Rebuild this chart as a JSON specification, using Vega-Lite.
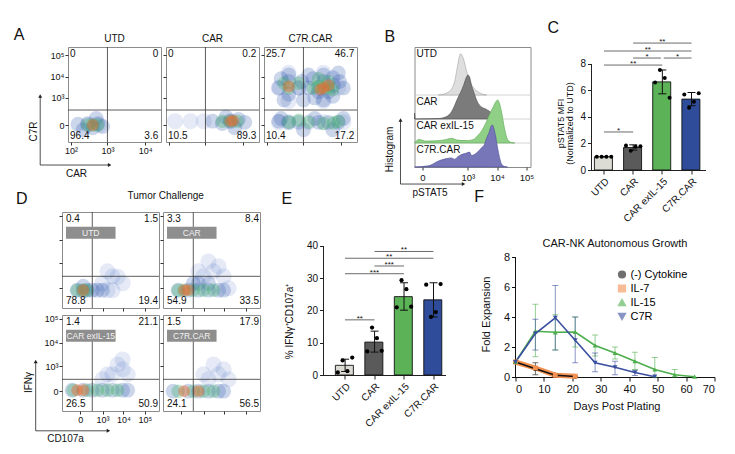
{
  "$schema": "https://vega.github.io/schema/vega-lite/v6.json",
  "background": "white",
  "padding": {"left": 13, "top": 20, "right": 5, "bottom": 5},
  "config": {
    "font": "Liberation Sans",
    "view": {"stroke": "#8c8c8c", "strokeWidth": 1},
    "title": {"fontWeight": "normal", "color": "#111", "fontSize": 10},
    "axis": {"grid": false, "labelColor": "#111", "titleColor": "#111", "tickColor": "#333", "domainColor": "#333", "titleFontWeight": "normal", "labelOverlap": false, "tickCount": 20},
    "text": {"color": "#111"}
  },
  "datasets": {
    "flowA": [
      {"sample": "UTD", "car": 296, "c7r": 0, "level": 0},
      {"sample": "UTD", "car": 600, "c7r": 0, "level": 0},
      {"sample": "UTD", "car": 158, "c7r": 5, "level": 1},
      {"sample": "UTD", "car": 296, "c7r": 10, "level": 1},
      {"sample": "UTD", "car": 404, "c7r": -20, "level": 1},
      {"sample": "UTD", "car": 550, "c7r": 10, "level": 1},
      {"sample": "UTD", "car": 746, "c7r": -10, "level": 1},
      {"sample": "UTD", "car": 220, "c7r": -40, "level": 1},
      {"sample": "UTD", "car": 500, "c7r": 60, "level": 1},
      {"sample": "UTD", "car": 296, "c7r": 0, "level": 2},
      {"sample": "UTD", "car": 404, "c7r": 0, "level": 2},
      {"sample": "UTD", "car": 550, "c7r": 0, "level": 2},
      {"sample": "UTD", "car": 404, "c7r": 0, "level": 3},
      {"sample": "CAR", "car": 150, "c7r": 30, "level": 0},
      {"sample": "CAR", "car": 400, "c7r": 30, "level": 0},
      {"sample": "CAR", "car": 900, "c7r": 30, "level": 0},
      {"sample": "CAR", "car": 4600, "c7r": 30, "level": 0},
      {"sample": "CAR", "car": 1550, "c7r": 30, "level": 1},
      {"sample": "CAR", "car": 2800, "c7r": 10, "level": 1},
      {"sample": "CAR", "car": 4600, "c7r": 30, "level": 1},
      {"sample": "CAR", "car": 7500, "c7r": 50, "level": 1},
      {"sample": "CAR", "car": 11000, "c7r": 20, "level": 1},
      {"sample": "CAR", "car": 3500, "c7r": 80, "level": 1},
      {"sample": "CAR", "car": 6000, "c7r": -20, "level": 1},
      {"sample": "CAR", "car": 2800, "c7r": 30, "level": 2},
      {"sample": "CAR", "car": 4600, "c7r": 30, "level": 2},
      {"sample": "CAR", "car": 7000, "c7r": 30, "level": 2},
      {"sample": "CAR", "car": 4600, "c7r": 30, "level": 3},
      {"sample": "CAR", "car": 5500, "c7r": 35, "level": 3},
      {"sample": "C7R.CAR", "car": 217, "c7r": 3000, "level": 0},
      {"sample": "C7R.CAR", "car": 746, "c7r": 3000, "level": 0},
      {"sample": "C7R.CAR", "car": 2510, "c7r": 3000, "level": 0},
      {"sample": "C7R.CAR", "car": 8400, "c7r": 3000, "level": 0},
      {"sample": "C7R.CAR", "car": 400, "c7r": 15000, "level": 0},
      {"sample": "C7R.CAR", "car": 3400, "c7r": 15000, "level": 0},
      {"sample": "C7R.CAR", "car": 400, "c7r": 700, "level": 0},
      {"sample": "C7R.CAR", "car": 3400, "c7r": 700, "level": 0},
      {"sample": "C7R.CAR", "car": 400, "c7r": 20, "level": 0},
      {"sample": "C7R.CAR", "car": 3400, "c7r": 20, "level": 0},
      {"sample": "C7R.CAR", "car": 1371, "c7r": 20, "level": 0},
      {"sample": "C7R.CAR", "car": 11370, "c7r": 20, "level": 0},
      {"sample": "C7R.CAR", "car": 217, "c7r": 20, "level": 0},
      {"sample": "C7R.CAR", "car": 217, "c7r": 3000, "level": 1},
      {"sample": "C7R.CAR", "car": 404, "c7r": 1500, "level": 1},
      {"sample": "C7R.CAR", "car": 404, "c7r": 6000, "level": 1},
      {"sample": "C7R.CAR", "car": 746, "c7r": 3000, "level": 1},
      {"sample": "C7R.CAR", "car": 1371, "c7r": 3000, "level": 1},
      {"sample": "C7R.CAR", "car": 2510, "c7r": 2000, "level": 1},
      {"sample": "C7R.CAR", "car": 3400, "c7r": 6000, "level": 1},
      {"sample": "C7R.CAR", "car": 4600, "c7r": 2000, "level": 1},
      {"sample": "C7R.CAR", "car": 6220, "c7r": 4000, "level": 1},
      {"sample": "C7R.CAR", "car": 3400, "c7r": 800, "level": 1},
      {"sample": "C7R.CAR", "car": 404, "c7r": 20, "level": 1},
      {"sample": "C7R.CAR", "car": 217, "c7r": 30, "level": 1},
      {"sample": "C7R.CAR", "car": 746, "c7r": 20, "level": 1},
      {"sample": "C7R.CAR", "car": 2510, "c7r": 20, "level": 1},
      {"sample": "C7R.CAR", "car": 4600, "c7r": 20, "level": 1},
      {"sample": "C7R.CAR", "car": 8400, "c7r": 20, "level": 1},
      {"sample": "C7R.CAR", "car": 11370, "c7r": 3000, "level": 1},
      {"sample": "C7R.CAR", "car": 404, "c7r": 12000, "level": 1},
      {"sample": "C7R.CAR", "car": 3400, "c7r": 12000, "level": 1},
      {"sample": "C7R.CAR", "car": 300, "c7r": 800, "level": 1},
      {"sample": "C7R.CAR", "car": 1000, "c7r": 800, "level": 1},
      {"sample": "C7R.CAR", "car": 2000, "c7r": 1000, "level": 1},
      {"sample": "C7R.CAR", "car": 6000, "c7r": 1200, "level": 1},
      {"sample": "C7R.CAR", "car": 900, "c7r": 6000, "level": 1},
      {"sample": "C7R.CAR", "car": 1800, "c7r": 8000, "level": 1},
      {"sample": "C7R.CAR", "car": 6000, "c7r": 9000, "level": 1},
      {"sample": "C7R.CAR", "car": 250, "c7r": 8000, "level": 1},
      {"sample": "C7R.CAR", "car": 9000, "c7r": 6000, "level": 1},
      {"sample": "C7R.CAR", "car": 1371, "c7r": 12000, "level": 1},
      {"sample": "C7R.CAR", "car": 8400, "c7r": 15000, "level": 1},
      {"sample": "C7R.CAR", "car": 250, "c7r": 60, "level": 1},
      {"sample": "C7R.CAR", "car": 1000, "c7r": -40, "level": 1},
      {"sample": "C7R.CAR", "car": 2000, "c7r": 60, "level": 1},
      {"sample": "C7R.CAR", "car": 6000, "c7r": -40, "level": 1},
      {"sample": "C7R.CAR", "car": 11370, "c7r": 60, "level": 1},
      {"sample": "C7R.CAR", "car": 404, "c7r": 3000, "level": 2},
      {"sample": "C7R.CAR", "car": 3400, "c7r": 3000, "level": 2},
      {"sample": "C7R.CAR", "car": 2510, "c7r": 3500, "level": 2},
      {"sample": "C7R.CAR", "car": 4600, "c7r": 3000, "level": 2},
      {"sample": "C7R.CAR", "car": 404, "c7r": 20, "level": 2},
      {"sample": "C7R.CAR", "car": 3400, "c7r": 10, "level": 2},
      {"sample": "C7R.CAR", "car": 6220, "c7r": 15, "level": 2},
      {"sample": "C7R.CAR", "car": 300, "c7r": 5000, "level": 2},
      {"sample": "C7R.CAR", "car": 746, "c7r": 5000, "level": 2},
      {"sample": "C7R.CAR", "car": 1800, "c7r": 3000, "level": 2},
      {"sample": "C7R.CAR", "car": 6000, "c7r": 2500, "level": 2},
      {"sample": "C7R.CAR", "car": 2510, "c7r": 8000, "level": 2},
      {"sample": "C7R.CAR", "car": 4600, "c7r": 6000, "level": 2},
      {"sample": "C7R.CAR", "car": 1371, "c7r": 20, "level": 2},
      {"sample": "C7R.CAR", "car": 8400, "c7r": 30, "level": 2},
      {"sample": "C7R.CAR", "car": 746, "c7r": 40, "level": 2},
      {"sample": "C7R.CAR", "car": 3400, "c7r": 3000, "level": 3},
      {"sample": "C7R.CAR", "car": 2800, "c7r": 2500, "level": 3},
      {"sample": "C7R.CAR", "car": 4600, "c7r": 4000, "level": 3},
      {"sample": "C7R.CAR", "car": 404, "c7r": 3500, "level": 3}
    ],
    "quadA": [
      {"sample": "UTD", "q": "UL", "pct": "0"}, {"sample": "UTD", "q": "UR", "pct": "0"},
      {"sample": "UTD", "q": "LL", "pct": "96.4"}, {"sample": "UTD", "q": "LR", "pct": "3.6"},
      {"sample": "CAR", "q": "UL", "pct": "0"}, {"sample": "CAR", "q": "UR", "pct": "0.2"},
      {"sample": "CAR", "q": "LL", "pct": "10.5"}, {"sample": "CAR", "q": "LR", "pct": "89.3"},
      {"sample": "C7R.CAR", "q": "UL", "pct": "25.7"}, {"sample": "C7R.CAR", "q": "UR", "pct": "46.7"},
      {"sample": "C7R.CAR", "q": "LL", "pct": "10.4"}, {"sample": "C7R.CAR", "q": "LR", "pct": "17.2"}
    ],
    "flowD": [
      {"sample": "UTD", "cd107a": 1747, "ifng": -21, "level": 0},
      {"sample": "UTD", "cd107a": 3069, "ifng": -21, "level": 0},
      {"sample": "UTD", "cd107a": 976, "ifng": 60, "level": 0},
      {"sample": "UTD", "cd107a": 3069, "ifng": 211, "level": 0},
      {"sample": "UTD", "cd107a": 1747, "ifng": 400, "level": 0},
      {"sample": "UTD", "cd107a": 5340, "ifng": 200, "level": 0},
      {"sample": "UTD", "cd107a": 9230, "ifng": 60, "level": 0},
      {"sample": "UTD", "cd107a": -38, "ifng": -21, "level": 1},
      {"sample": "UTD", "cd107a": 38, "ifng": -30, "level": 1},
      {"sample": "UTD", "cd107a": 113, "ifng": -21, "level": 1},
      {"sample": "UTD", "cd107a": 265, "ifng": -21, "level": 1},
      {"sample": "UTD", "cd107a": 527, "ifng": -21, "level": 1},
      {"sample": "UTD", "cd107a": 976, "ifng": -21, "level": 1},
      {"sample": "UTD", "cd107a": 38, "ifng": 20, "level": 1},
      {"sample": "UTD", "cd107a": 38, "ifng": -21, "level": 2},
      {"sample": "UTD", "cd107a": -38, "ifng": -21, "level": 2},
      {"sample": "UTD", "cd107a": 113, "ifng": -21, "level": 2},
      {"sample": "UTD", "cd107a": 38, "ifng": -21, "level": 3},
      {"sample": "CAR", "cd107a": 976, "ifng": 211, "level": 0},
      {"sample": "CAR", "cd107a": 3069, "ifng": 400, "level": 0},
      {"sample": "CAR", "cd107a": 9230, "ifng": 211, "level": 0},
      {"sample": "CAR", "cd107a": 1747, "ifng": 1190, "level": 0},
      {"sample": "CAR", "cd107a": 5340, "ifng": 703, "level": 0},
      {"sample": "CAR", "cd107a": 527, "ifng": 400, "level": 0},
      {"sample": "CAR", "cd107a": 15900, "ifng": 0, "level": 0},
      {"sample": "CAR", "cd107a": -38, "ifng": -21, "level": 1},
      {"sample": "CAR", "cd107a": 113, "ifng": -21, "level": 1},
      {"sample": "CAR", "cd107a": 527, "ifng": -21, "level": 1},
      {"sample": "CAR", "cd107a": 1747, "ifng": -21, "level": 1},
      {"sample": "CAR", "cd107a": 5340, "ifng": -21, "level": 1},
      {"sample": "CAR", "cd107a": 9230, "ifng": -21, "level": 1},
      {"sample": "CAR", "cd107a": 527, "ifng": 60, "level": 1},
      {"sample": "CAR", "cd107a": 1747, "ifng": 60, "level": 1},
      {"sample": "CAR", "cd107a": 265, "ifng": 60, "level": 1},
      {"sample": "CAR", "cd107a": -38, "ifng": -21, "level": 2},
      {"sample": "CAR", "cd107a": 38, "ifng": -21, "level": 2},
      {"sample": "CAR", "cd107a": 265, "ifng": -21, "level": 2},
      {"sample": "CAR", "cd107a": 976, "ifng": -21, "level": 2},
      {"sample": "CAR", "cd107a": 3069, "ifng": -21, "level": 2},
      {"sample": "CAR", "cd107a": 38, "ifng": -21, "level": 3},
      {"sample": "CAR", "cd107a": 113, "ifng": -21, "level": 3},
      {"sample": "CAR exIL-15", "cd107a": 976, "ifng": 211, "level": 0},
      {"sample": "CAR exIL-15", "cd107a": 3069, "ifng": 400, "level": 0},
      {"sample": "CAR exIL-15", "cd107a": 9230, "ifng": 703, "level": 0},
      {"sample": "CAR exIL-15", "cd107a": 5340, "ifng": 1190, "level": 0},
      {"sample": "CAR exIL-15", "cd107a": 9230, "ifng": 1970, "level": 0},
      {"sample": "CAR exIL-15", "cd107a": 15900, "ifng": 400, "level": 0},
      {"sample": "CAR exIL-15", "cd107a": 1747, "ifng": 400, "level": 0},
      {"sample": "CAR exIL-15", "cd107a": -137, "ifng": 10, "level": 1},
      {"sample": "CAR exIL-15", "cd107a": 38, "ifng": 10, "level": 1},
      {"sample": "CAR exIL-15", "cd107a": 265, "ifng": 10, "level": 1},
      {"sample": "CAR exIL-15", "cd107a": 976, "ifng": 10, "level": 1},
      {"sample": "CAR exIL-15", "cd107a": 3069, "ifng": 10, "level": 1},
      {"sample": "CAR exIL-15", "cd107a": 9230, "ifng": 10, "level": 1},
      {"sample": "CAR exIL-15", "cd107a": 15900, "ifng": 10, "level": 1},
      {"sample": "CAR exIL-15", "cd107a": -113, "ifng": 10, "level": 2},
      {"sample": "CAR exIL-15", "cd107a": 113, "ifng": 10, "level": 2},
      {"sample": "CAR exIL-15", "cd107a": 527, "ifng": 10, "level": 2},
      {"sample": "CAR exIL-15", "cd107a": 1747, "ifng": 10, "level": 2},
      {"sample": "CAR exIL-15", "cd107a": 5340, "ifng": 10, "level": 2},
      {"sample": "CAR exIL-15", "cd107a": -38, "ifng": 10, "level": 3},
      {"sample": "CAR exIL-15", "cd107a": 38, "ifng": 10, "level": 3},
      {"sample": "C7R.CAR", "cd107a": 1747, "ifng": 211, "level": 0},
      {"sample": "C7R.CAR", "cd107a": 5340, "ifng": 400, "level": 0},
      {"sample": "C7R.CAR", "cd107a": 9230, "ifng": 703, "level": 0},
      {"sample": "C7R.CAR", "cd107a": 3069, "ifng": 1190, "level": 0},
      {"sample": "C7R.CAR", "cd107a": 15900, "ifng": 211, "level": 0},
      {"sample": "C7R.CAR", "cd107a": 976, "ifng": 400, "level": 0},
      {"sample": "C7R.CAR", "cd107a": -137, "ifng": 0, "level": 1},
      {"sample": "C7R.CAR", "cd107a": 113, "ifng": 0, "level": 1},
      {"sample": "C7R.CAR", "cd107a": 527, "ifng": 0, "level": 1},
      {"sample": "C7R.CAR", "cd107a": 1747, "ifng": 0, "level": 1},
      {"sample": "C7R.CAR", "cd107a": 5340, "ifng": 0, "level": 1},
      {"sample": "C7R.CAR", "cd107a": 9230, "ifng": 0, "level": 1},
      {"sample": "C7R.CAR", "cd107a": -38, "ifng": 0, "level": 2},
      {"sample": "C7R.CAR", "cd107a": 265, "ifng": 0, "level": 2},
      {"sample": "C7R.CAR", "cd107a": 976, "ifng": 0, "level": 2},
      {"sample": "C7R.CAR", "cd107a": 3069, "ifng": 0, "level": 2},
      {"sample": "C7R.CAR", "cd107a": 38, "ifng": 0, "level": 3},
      {"sample": "C7R.CAR", "cd107a": 527, "ifng": 0, "level": 3}
    ],
    "quadD": [
      {"sample": "UTD", "q": "UL", "pct": "0.4"}, {"sample": "UTD", "q": "UR", "pct": "1.5"},
      {"sample": "UTD", "q": "LL", "pct": "78.8"}, {"sample": "UTD", "q": "LR", "pct": "19.4"},
      {"sample": "CAR", "q": "UL", "pct": "3.3"}, {"sample": "CAR", "q": "UR", "pct": "8.4"},
      {"sample": "CAR", "q": "LL", "pct": "54.9"}, {"sample": "CAR", "q": "LR", "pct": "33.5"},
      {"sample": "CAR exIL-15", "q": "UL", "pct": "1.4"}, {"sample": "CAR exIL-15", "q": "UR", "pct": "21.1"},
      {"sample": "CAR exIL-15", "q": "LL", "pct": "26.5"}, {"sample": "CAR exIL-15", "q": "LR", "pct": "50.9"},
      {"sample": "C7R.CAR", "q": "UL", "pct": "1.5"}, {"sample": "C7R.CAR", "q": "UR", "pct": "17.9"},
      {"sample": "C7R.CAR", "q": "LL", "pct": "24.1"}, {"sample": "C7R.CAR", "q": "LR", "pct": "56.5"}
    ],
    "hist": [
      {"sample": "UTD", "pstat5": 74, "h": 3.0}, {"sample": "UTD", "pstat5": 165, "h": 3.08},
      {"sample": "UTD", "pstat5": 258, "h": 3.25}, {"sample": "UTD", "pstat5": 334, "h": 3.55},
      {"sample": "UTD", "pstat5": 430, "h": 4.2}, {"sample": "UTD", "pstat5": 500, "h": 4.6},
      {"sample": "UTD", "pstat5": 551, "h": 4.72}, {"sample": "UTD", "pstat5": 704, "h": 4.5},
      {"sample": "UTD", "pstat5": 898, "h": 4.0}, {"sample": "UTD", "pstat5": 1143, "h": 3.6},
      {"sample": "UTD", "pstat5": 1573, "h": 3.3}, {"sample": "UTD", "pstat5": 2160, "h": 3.15},
      {"sample": "UTD", "pstat5": 2960, "h": 3.05}, {"sample": "UTD", "pstat5": 4390, "h": 3.0},
      {"sample": "CAR", "pstat5": -26, "h": 2.25}, {"sample": "CAR", "pstat5": -22, "h": 2.0},
      {"sample": "CAR", "pstat5": 74, "h": 2.02}, {"sample": "CAR", "pstat5": 165, "h": 2.1},
      {"sample": "CAR", "pstat5": 258, "h": 2.3}, {"sample": "CAR", "pstat5": 334, "h": 2.55},
      {"sample": "CAR", "pstat5": 430, "h": 2.85}, {"sample": "CAR", "pstat5": 551, "h": 3.1},
      {"sample": "CAR", "pstat5": 704, "h": 3.4}, {"sample": "CAR", "pstat5": 898, "h": 3.75},
      {"sample": "CAR", "pstat5": 1000, "h": 3.83}, {"sample": "CAR", "pstat5": 1143, "h": 3.75},
      {"sample": "CAR", "pstat5": 1341, "h": 3.4}, {"sample": "CAR", "pstat5": 1573, "h": 3.15},
      {"sample": "CAR", "pstat5": 2160, "h": 2.7}, {"sample": "CAR", "pstat5": 2960, "h": 2.5},
      {"sample": "CAR", "pstat5": 4390, "h": 2.4}, {"sample": "CAR", "pstat5": 5560, "h": 2.32},
      {"sample": "CAR", "pstat5": 7030, "h": 2.22}, {"sample": "CAR", "pstat5": 8880, "h": 2.12},
      {"sample": "CAR", "pstat5": 10400, "h": 2.05}, {"sample": "CAR", "pstat5": 12150, "h": 2.0},
      {"sample": "CAR exIL-15", "pstat5": -26, "h": 1.0}, {"sample": "CAR exIL-15", "pstat5": -10, "h": 1.15},
      {"sample": "CAR exIL-15", "pstat5": 10, "h": 1.08}, {"sample": "CAR exIL-15", "pstat5": 74, "h": 1.1},
      {"sample": "CAR exIL-15", "pstat5": 165, "h": 1.15}, {"sample": "CAR exIL-15", "pstat5": 258, "h": 1.2},
      {"sample": "CAR exIL-15", "pstat5": 430, "h": 1.12}, {"sample": "CAR exIL-15", "pstat5": 898, "h": 1.1},
      {"sample": "CAR exIL-15", "pstat5": 1573, "h": 1.15}, {"sample": "CAR exIL-15", "pstat5": 2160, "h": 1.3},
      {"sample": "CAR exIL-15", "pstat5": 2960, "h": 1.5}, {"sample": "CAR exIL-15", "pstat5": 4390, "h": 1.9},
      {"sample": "CAR exIL-15", "pstat5": 5560, "h": 2.2}, {"sample": "CAR exIL-15", "pstat5": 7030, "h": 2.45},
      {"sample": "CAR exIL-15", "pstat5": 8880, "h": 2.7}, {"sample": "CAR exIL-15", "pstat5": 10400, "h": 2.79},
      {"sample": "CAR exIL-15", "pstat5": 12150, "h": 2.65}, {"sample": "CAR exIL-15", "pstat5": 14200, "h": 2.3},
      {"sample": "CAR exIL-15", "pstat5": 17950, "h": 1.6}, {"sample": "CAR exIL-15", "pstat5": 22700, "h": 1.15},
      {"sample": "CAR exIL-15", "pstat5": 31000, "h": 1.02}, {"sample": "CAR exIL-15", "pstat5": 40000, "h": 1.0},
      {"sample": "C7R.CAR", "pstat5": -26, "h": 0}, {"sample": "C7R.CAR", "pstat5": 18, "h": 0.05},
      {"sample": "C7R.CAR", "pstat5": 74, "h": 0.25}, {"sample": "C7R.CAR", "pstat5": 165, "h": 0.35},
      {"sample": "C7R.CAR", "pstat5": 258, "h": 0.38}, {"sample": "C7R.CAR", "pstat5": 334, "h": 0.32},
      {"sample": "C7R.CAR", "pstat5": 430, "h": 0.42}, {"sample": "C7R.CAR", "pstat5": 551, "h": 0.5},
      {"sample": "C7R.CAR", "pstat5": 898, "h": 0.58}, {"sample": "C7R.CAR", "pstat5": 1143, "h": 0.62},
      {"sample": "C7R.CAR", "pstat5": 1341, "h": 0.48}, {"sample": "C7R.CAR", "pstat5": 1573, "h": 0.5},
      {"sample": "C7R.CAR", "pstat5": 2160, "h": 0.62}, {"sample": "C7R.CAR", "pstat5": 2960, "h": 0.8},
      {"sample": "C7R.CAR", "pstat5": 3750, "h": 0.95}, {"sample": "C7R.CAR", "pstat5": 4390, "h": 1.2},
      {"sample": "C7R.CAR", "pstat5": 5560, "h": 1.5}, {"sample": "C7R.CAR", "pstat5": 6000, "h": 1.65},
      {"sample": "C7R.CAR", "pstat5": 7030, "h": 1.75}, {"sample": "C7R.CAR", "pstat5": 7600, "h": 1.65},
      {"sample": "C7R.CAR", "pstat5": 8880, "h": 1.3}, {"sample": "C7R.CAR", "pstat5": 10400, "h": 0.8},
      {"sample": "C7R.CAR", "pstat5": 12150, "h": 0.4}, {"sample": "C7R.CAR", "pstat5": 14200, "h": 0.12},
      {"sample": "C7R.CAR", "pstat5": 17950, "h": 0.02}, {"sample": "C7R.CAR", "pstat5": 22700, "h": 0}
    ],
    "pstat": [
      {"group": "UTD", "mean": 1.0, "lo": 1.0, "hi": 1.0},
      {"group": "CAR", "mean": 1.7, "lo": 1.5, "hi": 1.9},
      {"group": "CAR exIL-15", "mean": 6.65, "lo": 5.75, "hi": 7.55},
      {"group": "C7R.CAR", "mean": 5.35, "lo": 4.85, "hi": 5.85}
    ],
    "pstatPts": [
      {"group": "UTD", "rep": 1, "v": 1.0}, {"group": "UTD", "rep": 2, "v": 1.0},
      {"group": "UTD", "rep": 3, "v": 1.0}, {"group": "UTD", "rep": 4, "v": 1.0},
      {"group": "CAR", "rep": 1, "v": 1.85}, {"group": "CAR", "rep": 2, "v": 1.45},
      {"group": "CAR", "rep": 3, "v": 1.75}, {"group": "CAR", "rep": 4, "v": 1.8},
      {"group": "CAR exIL-15", "rep": 1, "v": 6.6}, {"group": "CAR exIL-15", "rep": 2, "v": 7.55},
      {"group": "CAR exIL-15", "rep": 3, "v": 6.95}, {"group": "CAR exIL-15", "rep": 4, "v": 5.45},
      {"group": "C7R.CAR", "rep": 1, "v": 5.7}, {"group": "C7R.CAR", "rep": 2, "v": 4.7},
      {"group": "C7R.CAR", "rep": 3, "v": 5.15}, {"group": "C7R.CAR", "rep": 4, "v": 5.8}
    ],
    "pstatSig": [
      {"cmp": 1, "pos": 2, "h": 9.58, "stars": "**"}, {"cmp": 1, "pos": 4, "h": 9.58, "stars": "**"},
      {"cmp": 2, "pos": 1, "h": 8.98, "stars": "**"}, {"cmp": 2, "pos": 4, "h": 8.98, "stars": "**"},
      {"cmp": 3, "pos": 2, "h": 8.45, "stars": "*"}, {"cmp": 3, "pos": 2.95, "h": 8.45, "stars": "*"},
      {"cmp": 4, "pos": 3.05, "h": 8.45, "stars": "*"}, {"cmp": 4, "pos": 4, "h": 8.45, "stars": "*"},
      {"cmp": 5, "pos": 1, "h": 7.92, "stars": "**"}, {"cmp": 5, "pos": 3, "h": 7.92, "stars": "**"},
      {"cmp": 6, "pos": 1, "h": 2.87, "stars": "*"}, {"cmp": 6, "pos": 2, "h": 2.87, "stars": "*"}
    ],
    "ifn": [
      {"group": "UTD", "mean": 3.0, "lo": 1.1, "hi": 4.9},
      {"group": "CAR", "mean": 10.2, "lo": 7.1, "hi": 13.6},
      {"group": "CAR exIL-15", "mean": 24.3, "lo": 20.1, "hi": 28.6},
      {"group": "C7R.CAR", "mean": 23.3, "lo": 18.0, "hi": 28.6}
    ],
    "ifnPts": [
      {"group": "UTD", "rep": 1, "v": 0.8}, {"group": "UTD", "rep": 2, "v": 4.5},
      {"group": "UTD", "rep": 3, "v": 1.2}, {"group": "UTD", "rep": 4, "v": 5.4},
      {"group": "CAR", "rep": 1, "v": 7.3}, {"group": "CAR", "rep": 2, "v": 14.7},
      {"group": "CAR", "rep": 3, "v": 11.4}, {"group": "CAR", "rep": 4, "v": 7.5},
      {"group": "CAR exIL-15", "rep": 1, "v": 21.0}, {"group": "CAR exIL-15", "rep": 2, "v": 29.4},
      {"group": "CAR exIL-15", "rep": 3, "v": 26.6}, {"group": "CAR exIL-15", "rep": 4, "v": 21.2},
      {"group": "C7R.CAR", "rep": 1, "v": 28.0}, {"group": "C7R.CAR", "rep": 2, "v": 18.0},
      {"group": "C7R.CAR", "rep": 3, "v": 19.5}, {"group": "C7R.CAR", "rep": 4, "v": 28.2}
    ],
    "ifnSig": [
      {"cmp": 1, "pos": 2, "h": 38.3, "stars": "**"}, {"cmp": 1, "pos": 4, "h": 38.3, "stars": "**"},
      {"cmp": 2, "pos": 1, "h": 36.2, "stars": "**"}, {"cmp": 2, "pos": 4, "h": 36.2, "stars": "**"},
      {"cmp": 3, "pos": 2, "h": 33.8, "stars": "***"}, {"cmp": 3, "pos": 3, "h": 33.8, "stars": "***"},
      {"cmp": 4, "pos": 1, "h": 31.4, "stars": "***"}, {"cmp": 4, "pos": 3, "h": 31.4, "stars": "***"},
      {"cmp": 5, "pos": 1, "h": 17.1, "stars": "**"}, {"cmp": 5, "pos": 2, "h": 17.1, "stars": "**"}
    ],
    "growth": [
      {"series": "(-) Cytokine", "day": 0, "mean": 1.0, "lo": null, "hi": null},
      {"series": "(-) Cytokine", "day": 7, "mean": 0.55, "lo": 0.15, "hi": 0.95},
      {"series": "(-) Cytokine", "day": 14, "mean": 0.12, "lo": 0.05, "hi": 0.2},
      {"series": "(-) Cytokine", "day": 21, "mean": 0.03, "lo": null, "hi": null},
      {"series": "IL-7", "day": 0, "mean": 1.0, "lo": null, "hi": null},
      {"series": "IL-7", "day": 7, "mean": 0.6, "lo": null, "hi": null},
      {"series": "IL-7", "day": 14, "mean": 0.12, "lo": null, "hi": null},
      {"series": "IL-7", "day": 21, "mean": 0.05, "lo": null, "hi": null},
      {"series": "IL-15", "day": 0, "mean": 1.0, "lo": null, "hi": null},
      {"series": "IL-15", "day": 7, "mean": 3.05, "lo": 1.35, "hi": 4.85},
      {"series": "IL-15", "day": 14, "mean": 2.98, "lo": 1.8, "hi": 4.15},
      {"series": "IL-15", "day": 21, "mean": 3.0, "lo": 2.0, "hi": 4.0},
      {"series": "IL-15", "day": 28, "mean": 2.1, "lo": 1.4, "hi": 2.8},
      {"series": "IL-15", "day": 35, "mean": 1.6, "lo": 1.2, "hi": 2.0},
      {"series": "IL-15", "day": 42, "mean": 1.05, "lo": 0.5, "hi": 1.65},
      {"series": "IL-15", "day": 49, "mean": 0.5, "lo": 0.0, "hi": 1.3},
      {"series": "IL-15", "day": 56, "mean": 0.15, "lo": 0.0, "hi": 0.5},
      {"series": "IL-15", "day": 63, "mean": 0.02, "lo": null, "hi": null},
      {"series": "C7R", "day": 0, "mean": 1.0, "lo": null, "hi": null},
      {"series": "C7R", "day": 7, "mean": 2.9, "lo": 1.8, "hi": 3.85},
      {"series": "C7R", "day": 14, "mean": 3.95, "lo": 1.8, "hi": 6.1},
      {"series": "C7R", "day": 21, "mean": 2.45, "lo": 0.95, "hi": 4.0},
      {"series": "C7R", "day": 28, "mean": 0.95, "lo": 0.35, "hi": 1.6},
      {"series": "C7R", "day": 35, "mean": 0.65, "lo": 0.15, "hi": 1.05},
      {"series": "C7R", "day": 42, "mean": 0.3, "lo": 0.1, "hi": 0.45},
      {"series": "C7R", "day": 49, "mean": 0.02, "lo": null, "hi": null}
    ]
  },
  "concat": [
    {
      "hconcat": [
        {
          "hconcat": [
            {
              "hconcat": [
                {"width": 1, "height": 1, "view": {"stroke": null}, "data": {"values": [{}]}, "mark": {"type": "point", "opacity": 0}, "encoding": {},
                 "title": {"text": "A", "anchor": "start", "dx": -46, "fontSize": 16, "offset": 2}},
                {
                  "width": 93, "height": 95,
                  "title": {"text": "UTD", "fontSize": 10, "offset": 3},
                  "layer": [
                    {"data": {"name": "flowA"}, "transform": [{"filter": "datum.sample == 'UTD'"}], "mark": {"type": "circle", "clip": true},
                     "encoding": {
                       "x": {"field": "car", "type": "quantitative", "scale": {"type": "symlog", "constant": 10, "domain": [82, 26100], "nice": false},
                             "axis": {"values": [100, 1000, 10000], "labelExpr": "datum.value == 0 ? '0' : datum.value == 100 ? '10²' : datum.value == 1000 ? '10³' : datum.value == 10000 ? '10⁴' : datum.value == 100000 ? '10⁵' : ''", "labelFontSize": 9, "labelPadding": 1, "tickSize": 3, "domain": false, "title": "CAR", "titleFontSize": 10, "titleX": 8, "titleY": 31, "titleAlign": "center", "titleBaseline": "middle"}},
                       "y": {"field": "c7r", "type": "quantitative", "scale": {"type": "symlog", "constant": 60, "domain": [-303, 234000], "nice": false},
                             "axis": {"values": [0, 1000, 10000, 100000], "labelExpr": "datum.value == 0 ? '0' : datum.value == 100 ? '10²' : datum.value == 1000 ? '10³' : datum.value == 10000 ? '10⁴' : datum.value == 100000 ? '10⁵' : ''", "labelFontSize": 9, "labelPadding": 1, "tickSize": 3, "domain": false, "title": "C7R", "titleFontSize": 10, "titleX": -35, "titleY": 84, "titleAlign": "center", "titleBaseline": "middle"}},
                       "color": {"field": "level", "type": "ordinal", "scale": {"domain": [0, 1, 2, 3], "range": ["#4a6cc0", "#2d58ad", "#44b06a", "#ee6a2c"]}, "legend": null},
                       "size": {"field": "level", "type": "ordinal", "scale": {"domain": [0, 1, 2, 3], "range": [260, 140, 55, 16]}, "legend": null},
                       "opacity": {"field": "level", "type": "ordinal", "scale": {"domain": [0, 1, 2, 3], "range": [0.14, 0.45, 0.75, 0.95]}, "legend": null},
                       "order": {"field": "level", "type": "quantitative"}
                     }},
                    {"data": {"values": [{}]}, "mark": {"type": "rule", "color": "#333", "strokeWidth": 0.8}, "encoding": {"x": {"datum": 1000}}},
                    {"data": {"values": [{}]}, "mark": {"type": "rule", "color": "#333", "strokeWidth": 0.8}, "encoding": {"y": {"datum": 234}}},
                    {"data": {"name": "quadA"}, "transform": [{"filter": "datum.sample == 'UTD'"}], "layer": [
                      {"transform": [{"filter": "datum.q == 'UL'"}], "mark": {"type": "text", "align": "left", "baseline": "middle", "fontSize": 10}, "encoding": {"x": {"datum": 94}, "y": {"datum": 111800}, "text": {"field": "pct", "type": "nominal"}}},
                      {"transform": [{"filter": "datum.q == 'UR'"}], "mark": {"type": "text", "align": "right", "baseline": "middle", "fontSize": 10}, "encoding": {"x": {"datum": 22070}, "y": {"datum": 111800}, "text": {"field": "pct", "type": "nominal"}}},
                      {"transform": [{"filter": "datum.q == 'LL'"}], "mark": {"type": "text", "align": "left", "baseline": "middle", "fontSize": 10}, "encoding": {"x": {"datum": 94}, "y": {"datum": -133}, "text": {"field": "pct", "type": "nominal"}}},
                      {"transform": [{"filter": "datum.q == 'LR'"}], "mark": {"type": "text", "align": "right", "baseline": "middle", "fontSize": 10}, "encoding": {"x": {"datum": 22070}, "y": {"datum": -133}, "text": {"field": "pct", "type": "nominal"}}}
                    ]},
                    {"data": {"values": [{}]}, "mark": {"type": "rule", "color": "#222", "strokeWidth": 0.8}, "encoding": {"x": {"datum": 7}, "y": {"datum": -4108}, "y2": {"datum": 1239}}},
                    {"data": {"values": [{}]}, "mark": {"type": "rule", "color": "#222", "strokeWidth": 0.8}, "encoding": {"x": {"datum": 7}, "x2": {"datum": 1142}, "y": {"datum": -4108}}},
                    {"data": {"values": [{}]}, "mark": {"type": "point", "shape": "triangle-up", "filled": true, "color": "#222", "size": 16, "opacity": 1}, "encoding": {"x": {"datum": 7}, "y": {"datum": 1239}}},
                    {"data": {"values": [{}]}, "mark": {"type": "point", "shape": "triangle-right", "filled": true, "color": "#222", "size": 16, "opacity": 1}, "encoding": {"x": {"datum": 1142}, "y": {"datum": -4108}}}
                  ]
                },
                {
                  "width": 93, "height": 95,
                  "title": {"text": "CAR", "fontSize": 10, "offset": 3},
                  "layer": [
                    {"data": {"name": "flowA"}, "transform": [{"filter": "datum.sample == 'CAR'"}], "mark": {"type": "circle", "clip": true},
                     "encoding": {
                       "x": {"field": "car", "type": "quantitative", "scale": {"type": "symlog", "constant": 10, "domain": [82, 26100], "nice": false},
                             "axis": {"values": [100, 1000, 10000], "labels": false, "tickSize": 3, "domain": false, "title": null}},
                       "y": {"field": "c7r", "type": "quantitative", "scale": {"type": "symlog", "constant": 60, "domain": [-303, 234000], "nice": false},
                             "axis": {"values": [0, 1000, 10000, 100000], "labels": false, "tickSize": 3, "domain": false, "title": null}},
                       "color": {"field": "level", "type": "ordinal", "scale": {"domain": [0, 1, 2, 3], "range": ["#4a6cc0", "#2d58ad", "#44b06a", "#ee6a2c"]}, "legend": null},
                       "size": {"field": "level", "type": "ordinal", "scale": {"domain": [0, 1, 2, 3], "range": [260, 140, 55, 16]}, "legend": null},
                       "opacity": {"field": "level", "type": "ordinal", "scale": {"domain": [0, 1, 2, 3], "range": [0.14, 0.45, 0.75, 0.95]}, "legend": null},
                       "order": {"field": "level", "type": "quantitative"}
                     }},
                    {"data": {"values": [{}]}, "mark": {"type": "rule", "color": "#333", "strokeWidth": 0.8}, "encoding": {"x": {"datum": 1000}}},
                    {"data": {"values": [{}]}, "mark": {"type": "rule", "color": "#333", "strokeWidth": 0.8}, "encoding": {"y": {"datum": 234}}},
                    {"data": {"name": "quadA"}, "transform": [{"filter": "datum.sample == 'CAR'"}], "layer": [
                      {"transform": [{"filter": "datum.q == 'UL'"}], "mark": {"type": "text", "align": "left", "baseline": "middle", "fontSize": 10}, "encoding": {"x": {"datum": 94}, "y": {"datum": 111800}, "text": {"field": "pct", "type": "nominal"}}},
                      {"transform": [{"filter": "datum.q == 'UR'"}], "mark": {"type": "text", "align": "right", "baseline": "middle", "fontSize": 10}, "encoding": {"x": {"datum": 22070}, "y": {"datum": 111800}, "text": {"field": "pct", "type": "nominal"}}},
                      {"transform": [{"filter": "datum.q == 'LL'"}], "mark": {"type": "text", "align": "left", "baseline": "middle", "fontSize": 10}, "encoding": {"x": {"datum": 94}, "y": {"datum": -133}, "text": {"field": "pct", "type": "nominal"}}},
                      {"transform": [{"filter": "datum.q == 'LR'"}], "mark": {"type": "text", "align": "right", "baseline": "middle", "fontSize": 10}, "encoding": {"x": {"datum": 22070}, "y": {"datum": -133}, "text": {"field": "pct", "type": "nominal"}}}
                    ]}
                  ]
                },
                {
                  "width": 93, "height": 95,
                  "title": {"text": "C7R.CAR", "fontSize": 10, "offset": 3},
                  "layer": [
                    {"data": {"name": "flowA"}, "transform": [{"filter": "datum.sample == 'C7R.CAR'"}], "mark": {"type": "circle", "clip": true},
                     "encoding": {
                       "x": {"field": "car", "type": "quantitative", "scale": {"type": "symlog", "constant": 10, "domain": [82, 26100], "nice": false},
                             "axis": {"values": [100, 1000, 10000], "labels": false, "tickSize": 3, "domain": false, "title": null}},
                       "y": {"field": "c7r", "type": "quantitative", "scale": {"type": "symlog", "constant": 60, "domain": [-303, 234000], "nice": false},
                             "axis": {"values": [0, 1000, 10000, 100000], "labels": false, "tickSize": 3, "domain": false, "title": null}},
                       "color": {"field": "level", "type": "ordinal", "scale": {"domain": [0, 1, 2, 3], "range": ["#4a6cc0", "#2d58ad", "#44b06a", "#ee6a2c"]}, "legend": null},
                       "size": {"field": "level", "type": "ordinal", "scale": {"domain": [0, 1, 2, 3], "range": [260, 140, 55, 16]}, "legend": null},
                       "opacity": {"field": "level", "type": "ordinal", "scale": {"domain": [0, 1, 2, 3], "range": [0.14, 0.45, 0.75, 0.95]}, "legend": null},
                       "order": {"field": "level", "type": "quantitative"}
                     }},
                    {"data": {"values": [{}]}, "mark": {"type": "rule", "color": "#333", "strokeWidth": 0.8}, "encoding": {"x": {"datum": 1000}}},
                    {"data": {"values": [{}]}, "mark": {"type": "rule", "color": "#333", "strokeWidth": 0.8}, "encoding": {"y": {"datum": 234}}},
                    {"data": {"name": "quadA"}, "transform": [{"filter": "datum.sample == 'C7R.CAR'"}], "layer": [
                      {"transform": [{"filter": "datum.q == 'UL'"}], "mark": {"type": "text", "align": "left", "baseline": "middle", "fontSize": 10}, "encoding": {"x": {"datum": 94}, "y": {"datum": 111800}, "text": {"field": "pct", "type": "nominal"}}},
                      {"transform": [{"filter": "datum.q == 'UR'"}], "mark": {"type": "text", "align": "right", "baseline": "middle", "fontSize": 10}, "encoding": {"x": {"datum": 22070}, "y": {"datum": 111800}, "text": {"field": "pct", "type": "nominal"}}},
                      {"transform": [{"filter": "datum.q == 'LL'"}], "mark": {"type": "text", "align": "left", "baseline": "middle", "fontSize": 10}, "encoding": {"x": {"datum": 94}, "y": {"datum": -133}, "text": {"field": "pct", "type": "nominal"}}},
                      {"transform": [{"filter": "datum.q == 'LR'"}], "mark": {"type": "text", "align": "right", "baseline": "middle", "fontSize": 10}, "encoding": {"x": {"datum": 22070}, "y": {"datum": -133}, "text": {"field": "pct", "type": "nominal"}}}
                    ]}
                  ]
                }
              ],
              "spacing": 5,
              "bounds": "flush"
            },
            {
              "width": 116, "height": 120,
              "title": {"text": "B", "anchor": "start", "frame": "group", "dx": -30, "fontSize": 16, "offset": 2},
              "layer": [
                {"data": {"values": [{}]}, "mark": {"type": "rule", "color": "#c8c8c8", "strokeWidth": 0.8}, "encoding": {"y": {"datum": 1}}},
                {"data": {"values": [{}]}, "mark": {"type": "rule", "color": "#c8c8c8", "strokeWidth": 0.8}, "encoding": {"y": {"datum": 2}}},
                {"data": {"values": [{}]}, "mark": {"type": "rule", "color": "#c8c8c8", "strokeWidth": 0.8}, "encoding": {"y": {"datum": 3}}},
                {"data": {"name": "hist"}, "transform": [{"filter": "datum.sample == 'UTD'"}], "mark": {"type": "area", "color": "#dedede", "stroke": "#a5a5a5", "strokeWidth": 0.6, "interpolate": "monotone"},
                 "encoding": {
                   "x": {"field": "pstat5", "type": "quantitative", "scale": {"type": "symlog", "constant": 30, "domain": [-26, 136000], "nice": false},
                         "axis": {"values": [0, 1000, 10000, 100000], "labelExpr": "datum.value == 0 ? '0' : datum.value == 100 ? '10²' : datum.value == 1000 ? '10³' : datum.value == 10000 ? '10⁴' : datum.value == 100000 ? '10⁵' : ''", "labelFontSize": 9.5, "labelPadding": 2, "tickSize": 3, "domain": false, "title": "pSTAT5", "titleFontSize": 10, "titleX": 15, "titleY": 25, "titleAlign": "center", "titleBaseline": "middle"}},
                   "y": {"field": "h", "type": "quantitative", "scale": {"domain": [0, 5], "nice": false},
                         "axis": {"labels": false, "ticks": false, "domain": false, "title": "Histogram", "titleFontSize": 10, "titleX": -25, "titleY": 102, "titleAlign": "center", "titleBaseline": "middle"}},
                   "y2": {"datum": 3}
                 }},
                {"data": {"name": "hist"}, "transform": [{"filter": "datum.sample == 'CAR'"}], "mark": {"type": "area", "color": "#7b7b7b", "stroke": "#4a4a4a", "strokeWidth": 0.6, "interpolate": "monotone"},
                 "encoding": {
                   "x": {"field": "pstat5", "type": "quantitative", "scale": {"type": "symlog", "constant": 30, "domain": [-26, 136000], "nice": false}},
                   "y": {"field": "h", "type": "quantitative", "scale": {"domain": [0, 5], "nice": false}},
                   "y2": {"datum": 2}
                 }},
                {"data": {"name": "hist"}, "transform": [{"filter": "datum.sample == 'CAR exIL-15'"}], "mark": {"type": "area", "color": "#8fcf86", "stroke": "#5aa853", "strokeWidth": 0.6, "interpolate": "monotone"},
                 "encoding": {
                   "x": {"field": "pstat5", "type": "quantitative", "scale": {"type": "symlog", "constant": 30, "domain": [-26, 136000], "nice": false}},
                   "y": {"field": "h", "type": "quantitative", "scale": {"domain": [0, 5], "nice": false}},
                   "y2": {"datum": 1}
                 }},
                {"data": {"name": "hist"}, "transform": [{"filter": "datum.sample == 'C7R.CAR'"}], "mark": {"type": "area", "color": "#7676b9", "stroke": "#4b4b96", "strokeWidth": 0.6, "interpolate": "monotone"},
                 "encoding": {
                   "x": {"field": "pstat5", "type": "quantitative", "scale": {"type": "symlog", "constant": 30, "domain": [-26, 136000], "nice": false}},
                   "y": {"field": "h", "type": "quantitative", "scale": {"domain": [0, 5], "nice": false}},
                   "y2": {"datum": 0}
                 }},
                {"data": {"values": [{}]}, "mark": {"type": "text", "align": "left", "baseline": "middle", "fontSize": 10}, "encoding": {"x": {"datum": -18}, "y": {"datum": 4.72}, "text": {"value": "UTD"}}},
                {"data": {"values": [{}]}, "mark": {"type": "text", "align": "left", "baseline": "middle", "fontSize": 10}, "encoding": {"x": {"datum": -18}, "y": {"datum": 2.71}, "text": {"value": "CAR"}}},
                {"data": {"values": [{}]}, "mark": {"type": "text", "align": "left", "baseline": "middle", "fontSize": 10}, "encoding": {"x": {"datum": -18}, "y": {"datum": 1.71}, "text": {"value": "CAR exIL-15"}}},
                {"data": {"values": [{}]}, "mark": {"type": "text", "align": "left", "baseline": "middle", "fontSize": 10}, "encoding": {"x": {"datum": -18}, "y": {"datum": 0.71}, "text": {"value": "C7R.CAR"}}},
                {"data": {"values": [{}]}, "mark": {"type": "rule", "color": "#222", "strokeWidth": 0.8}, "encoding": {"x": {"datum": -137}, "y": {"datum": -0.71}, "y2": {"datum": 1.96}}},
                {"data": {"values": [{}]}, "mark": {"type": "rule", "color": "#222", "strokeWidth": 0.8}, "encoding": {"x": {"datum": -137}, "x2": {"datum": 704}, "y": {"datum": -0.71}}},
                {"data": {"values": [{}]}, "mark": {"type": "point", "shape": "triangle-up", "filled": true, "color": "#222", "size": 16, "opacity": 1}, "encoding": {"x": {"datum": -137}, "y": {"datum": 1.96}}},
                {"data": {"values": [{}]}, "mark": {"type": "point", "shape": "triangle-right", "filled": true, "color": "#222", "size": 16, "opacity": 1}, "encoding": {"x": {"datum": 704}, "y": {"datum": -0.71}}}
              ]
            }
          ],
          "spacing": 25.5
        },
        {
          "width": 114, "height": 123,
          "view": {"stroke": null},
          "title": {"text": "C", "anchor": "start", "frame": "group", "dx": -44, "fontSize": 16, "offset": 2},
          "layer": [
            {"layer": [
              {"data": {"name": "pstat"}, "mark": {"type": "bar", "stroke": "#111", "strokeWidth": 0.9},
               "encoding": {
                 "x": {"field": "group", "type": "nominal", "scale": {"domain": ["UTD", "CAR", "CAR exIL-15", "C7R.CAR"], "paddingInner": 0.34, "paddingOuter": 0.125, "align": 0.4},
                       "axis": {"title": null, "labelAngle": -45, "labelFontSize": 10, "tickSize": 4, "labelPadding": 2, "domainColor": "#222", "tickColor": "#222"}},
                 "y": {"field": "mean", "type": "quantitative", "scale": {"domain": [0, 9.283], "nice": false},
                       "axis": {"values": [0, 2, 4, 6, 8], "format": "d", "domain": false, "labelFontSize": 10, "tickSize": 4, "tickColor": "#222", "title": ["pSTAT5 MFI", "(Normalized to UTD)"], "titleFontSize": 9, "titleLineHeight": 9, "titleX": -31, "titleY": 76, "titleAlign": "center", "titleBaseline": "middle"}},
                 "color": {"field": "group", "type": "nominal", "scale": {"domain": ["UTD", "CAR", "CAR exIL-15", "C7R.CAR"], "range": ["#dcdcd5", "#5a5a5a", "#5bb257", "#2f4c9a"]}, "legend": null}
               }},
              {"data": {"name": "pstat"}, "mark": {"type": "rule", "color": "#111", "strokeWidth": 1},
               "encoding": {"x": {"field": "group", "type": "nominal"}, "y": {"field": "lo", "type": "quantitative", "scale": {"domain": [0, 9.283], "nice": false}}, "y2": {"field": "hi"}}},
              {"data": {"name": "pstat"}, "mark": {"type": "tick", "orient": "horizontal", "size": 8, "thickness": 1, "color": "#111", "opacity": 1},
               "encoding": {"x": {"field": "group", "type": "nominal"}, "y": {"field": "hi", "type": "quantitative", "scale": {"domain": [0, 9.283], "nice": false}}}},
              {"data": {"name": "pstat"}, "mark": {"type": "tick", "orient": "horizontal", "size": 8, "thickness": 1, "color": "#111", "opacity": 1},
               "encoding": {"x": {"field": "group", "type": "nominal"}, "y": {"field": "lo", "type": "quantitative", "scale": {"domain": [0, 9.283], "nice": false}}}},
              {"data": {"name": "pstatPts"}, "mark": {"type": "circle", "color": "#000", "size": 16, "opacity": 1},
               "encoding": {"x": {"field": "group", "type": "nominal"}, "xOffset": {"field": "rep", "type": "nominal"}, "y": {"field": "v", "type": "quantitative", "scale": {"domain": [0, 9.283], "nice": false}}}}
            ]},
            {"layer": [
              {"data": {"values": [{}]}, "mark": {"type": "rule", "color": "#222", "strokeWidth": 1},
               "encoding": {
                 "x": {"datum": 0.571, "type": "quantitative", "scale": {"domain": [0.571, 4.48], "nice": false, "zero": false}, "axis": null},
                 "y": {"datum": 0, "type": "quantitative", "scale": {"domain": [0, 9.283], "nice": false}},
                 "y2": {"datum": 8}
               }},
              {"data": {"name": "pstatSig"}, "mark": {"type": "rule", "color": "#444", "strokeWidth": 0.8},
               "encoding": {
                 "x": {"aggregate": "min", "field": "pos", "type": "quantitative", "scale": {"domain": [0.571, 4.48], "nice": false, "zero": false}, "axis": null},
                 "x2": {"aggregate": "max", "field": "pos"},
                 "y": {"field": "h", "type": "quantitative", "scale": {"domain": [0, 9.283], "nice": false}},
                 "detail": {"field": "cmp", "type": "nominal"}
               }},
              {"data": {"name": "pstatSig"}, "mark": {"type": "text", "fontSize": 8, "baseline": "middle", "dy": -1},
               "encoding": {
                 "x": {"aggregate": "mean", "field": "pos", "type": "quantitative", "scale": {"domain": [0.571, 4.48], "nice": false, "zero": false}, "axis": null},
                 "y": {"field": "h", "type": "quantitative", "scale": {"domain": [0, 9.283], "nice": false}},
                 "text": {"field": "stars", "type": "nominal"},
                 "detail": {"field": "cmp", "type": "nominal"}
               }}
            ]}
          ],
          "resolve": {"scale": {"x": "independent"}, "axis": {"x": "independent"}}
        }
      ],
      "spacing": 12.5,
      "resolve": {"scale": {"color": "independent", "size": "independent", "opacity": "independent", "shape": "independent"}}
    },
    {
      "hconcat": [
        {
          "hconcat": [
            {
              "hconcat": [
                {
                  "vconcat": [
                    {
                      "width": 97, "height": 96,
                      "title": {"text": "D", "anchor": "start", "frame": "group", "dx": -46, "fontSize": 16, "offset": 5},
                      "layer": [
                        {"data": {"name": "flowD"}, "transform": [{"filter": "datum.sample == 'UTD'"}], "mark": {"type": "circle", "clip": true},
                         "encoding": {
                           "x": {"field": "cd107a", "type": "quantitative", "scale": {"type": "symlog", "constant": 100, "domain": [-596, 454000], "nice": false},
                                 "axis": {"values": [0, 1000, 10000, 100000], "labels": false, "tickSize": 3, "domain": false, "title": null}},
                           "y": {"field": "ifng", "type": "quantitative", "scale": {"type": "symlog", "constant": 100, "domain": [-565, 146000], "nice": false},
                                 "axis": {"values": [0, 1000, 10000, 100000], "labels": false, "tickSize": 3, "domain": false, "title": null}},
                           "color": {"field": "level", "type": "ordinal", "scale": {"domain": [0, 1, 2, 3], "range": ["#4a6cc0", "#2d58ad", "#44b06a", "#ee6a2c"]}, "legend": null},
                           "size": {"field": "level", "type": "ordinal", "scale": {"domain": [0, 1, 2, 3], "range": [260, 140, 55, 16]}, "legend": null},
                           "opacity": {"field": "level", "type": "ordinal", "scale": {"domain": [0, 1, 2, 3], "range": [0.14, 0.45, 0.75, 0.95]}, "legend": null},
                           "order": {"field": "level", "type": "quantitative"}
                         }},
                        {"data": {"values": [{}]}, "mark": {"type": "rule", "color": "#333", "strokeWidth": 0.8}, "encoding": {"x": {"datum": 265}}},
                        {"data": {"values": [{}]}, "mark": {"type": "rule", "color": "#333", "strokeWidth": 0.8}, "encoding": {"y": {"datum": 211}}},
                        {"data": {"values": [{}]}, "mark": {"type": "rect", "color": "#8e8e8e"}, "encoding": {"x": {"datum": -353}, "x2": {"datum": 4280}, "y": {"datum": 11300}, "y2": {"datum": 35400}}},
                        {"data": {"values": [{}]}, "mark": {"type": "text", "color": "#f2f2f2", "fontSize": 8.5, "align": "center", "baseline": "middle"}, "encoding": {"x": {"datum": 210}, "y": {"datum": 19460}, "text": {"value": "UTD"}}},
                        {"data": {"name": "quadD"}, "transform": [{"filter": "datum.sample == 'UTD'"}], "layer": [
                          {"transform": [{"filter": "datum.q == 'UL'"}], "mark": {"type": "text", "align": "left", "baseline": "middle", "fontSize": 10}, "encoding": {"x": {"datum": -353}, "y": {"datum": 75700}, "text": {"field": "pct", "type": "nominal"}}},
                          {"transform": [{"filter": "datum.q == 'UR'"}], "mark": {"type": "text", "align": "right", "baseline": "middle", "fontSize": 10}, "encoding": {"x": {"datum": 408000}, "y": {"datum": 75700}, "text": {"field": "pct", "type": "nominal"}}},
                          {"transform": [{"filter": "datum.q == 'LL'"}], "mark": {"type": "text", "align": "left", "baseline": "middle", "fontSize": 10}, "encoding": {"x": {"datum": -353}, "y": {"datum": -242}, "text": {"field": "pct", "type": "nominal"}}},
                          {"transform": [{"filter": "datum.q == 'LR'"}], "mark": {"type": "text", "align": "right", "baseline": "middle", "fontSize": 10}, "encoding": {"x": {"datum": 408000}, "y": {"datum": -242}, "text": {"field": "pct", "type": "nominal"}}}
                        ]}
                      ]
                    },
                    {
                      "width": 97, "height": 96,
                      "layer": [
                        {"data": {"name": "flowD"}, "transform": [{"filter": "datum.sample == 'CAR exIL-15'"}], "mark": {"type": "circle", "clip": true},
                         "encoding": {
                           "x": {"field": "cd107a", "type": "quantitative", "scale": {"type": "symlog", "constant": 100, "domain": [-596, 454000], "nice": false},
                                 "axis": {"values": [0, 1000, 10000, 100000], "labelExpr": "datum.value == 0 ? '0' : datum.value == 100 ? '10²' : datum.value == 1000 ? '10³' : datum.value == 10000 ? '10⁴' : datum.value == 100000 ? '10⁵' : ''", "labelFontSize": 9, "labelPadding": 1, "tickSize": 3, "domain": false, "title": "CD107a", "titleFontSize": 10, "titleX": 3, "titleY": 27, "titleAlign": "center", "titleBaseline": "middle"}},
                           "y": {"field": "ifng", "type": "quantitative", "scale": {"type": "symlog", "constant": 100, "domain": [-565, 146000], "nice": false},
                                 "axis": {"values": [0, 1000, 10000, 100000], "labelExpr": "datum.value == 0 ? '0' : datum.value == 100 ? '10²' : datum.value == 1000 ? '10³' : datum.value == 10000 ? '10⁴' : datum.value == 100000 ? '10⁵' : ''", "labelFontSize": 9, "labelPadding": 1, "tickSize": 3, "domain": false, "title": "IFNγ", "titleFontSize": 10, "titleX": -34, "titleY": 67, "titleAlign": "center", "titleBaseline": "middle"}},
                           "color": {"field": "level", "type": "ordinal", "scale": {"domain": [0, 1, 2, 3], "range": ["#4a6cc0", "#2d58ad", "#44b06a", "#ee6a2c"]}, "legend": null},
                           "size": {"field": "level", "type": "ordinal", "scale": {"domain": [0, 1, 2, 3], "range": [260, 140, 55, 16]}, "legend": null},
                           "opacity": {"field": "level", "type": "ordinal", "scale": {"domain": [0, 1, 2, 3], "range": [0.14, 0.45, 0.75, 0.95]}, "legend": null},
                           "order": {"field": "level", "type": "quantitative"}
                         }},
                        {"data": {"values": [{}]}, "mark": {"type": "rule", "color": "#333", "strokeWidth": 0.8}, "encoding": {"x": {"datum": 265}}},
                        {"data": {"values": [{}]}, "mark": {"type": "rule", "color": "#333", "strokeWidth": 0.8}, "encoding": {"y": {"datum": 211}}},
                        {"data": {"values": [{}]}, "mark": {"type": "rect", "color": "#8e8e8e"}, "encoding": {"x": {"datum": -353}, "x2": {"datum": 4280}, "y": {"datum": 11300}, "y2": {"datum": 35400}}},
                        {"data": {"values": [{}]}, "mark": {"type": "text", "color": "#f2f2f2", "fontSize": 8.5, "align": "center", "baseline": "middle"}, "encoding": {"x": {"datum": 210}, "y": {"datum": 19460}, "text": {"value": "CAR exIL-15"}}},
                        {"data": {"name": "quadD"}, "transform": [{"filter": "datum.sample == 'CAR exIL-15'"}], "layer": [
                          {"transform": [{"filter": "datum.q == 'UL'"}], "mark": {"type": "text", "align": "left", "baseline": "middle", "fontSize": 10}, "encoding": {"x": {"datum": -353}, "y": {"datum": 75700}, "text": {"field": "pct", "type": "nominal"}}},
                          {"transform": [{"filter": "datum.q == 'UR'"}], "mark": {"type": "text", "align": "right", "baseline": "middle", "fontSize": 10}, "encoding": {"x": {"datum": 408000}, "y": {"datum": 75700}, "text": {"field": "pct", "type": "nominal"}}},
                          {"transform": [{"filter": "datum.q == 'LL'"}], "mark": {"type": "text", "align": "left", "baseline": "middle", "fontSize": 10}, "encoding": {"x": {"datum": -353}, "y": {"datum": -242}, "text": {"field": "pct", "type": "nominal"}}},
                          {"transform": [{"filter": "datum.q == 'LR'"}], "mark": {"type": "text", "align": "right", "baseline": "middle", "fontSize": 10}, "encoding": {"x": {"datum": 408000}, "y": {"datum": -242}, "text": {"field": "pct", "type": "nominal"}}}
                        ]},
                        {"data": {"values": [{}]}, "mark": {"type": "rule", "color": "#222", "strokeWidth": 0.8}, "encoding": {"x": {"datum": -11460}, "y": {"datum": -4320}, "y2": {"datum": 1610}}},
                        {"data": {"values": [{}]}, "mark": {"type": "rule", "color": "#222", "strokeWidth": 0.8}, "encoding": {"x": {"datum": -11460}, "x2": {"datum": 1950}, "y": {"datum": -4320}}},
                        {"data": {"values": [{}]}, "mark": {"type": "point", "shape": "triangle-up", "filled": true, "color": "#222", "size": 16, "opacity": 1}, "encoding": {"x": {"datum": -11460}, "y": {"datum": 1610}}},
                        {"data": {"values": [{}]}, "mark": {"type": "point", "shape": "triangle-right", "filled": true, "color": "#222", "size": 16, "opacity": 1}, "encoding": {"x": {"datum": 1950}, "y": {"datum": -4320}}}
                      ]
                    }
                  ],
                  "spacing": 7,
                  "bounds": "flush"
                },
                {
                  "vconcat": [
                    {
                      "width": 97, "height": 96,
                      "title": {"text": "Tumor Challenge", "anchor": "start", "frame": "group", "dx": -35.5, "fontSize": 10, "offset": 11},
                      "layer": [
                        {"data": {"name": "flowD"}, "transform": [{"filter": "datum.sample == 'CAR'"}], "mark": {"type": "circle", "clip": true},
                         "encoding": {
                           "x": {"field": "cd107a", "type": "quantitative", "scale": {"type": "symlog", "constant": 100, "domain": [-596, 454000], "nice": false},
                                 "axis": {"values": [0, 1000, 10000, 100000], "labels": false, "tickSize": 3, "domain": false, "title": null}},
                           "y": {"field": "ifng", "type": "quantitative", "scale": {"type": "symlog", "constant": 100, "domain": [-565, 146000], "nice": false},
                                 "axis": {"values": [0, 1000, 10000, 100000], "labels": false, "tickSize": 3, "domain": false, "title": null}},
                           "color": {"field": "level", "type": "ordinal", "scale": {"domain": [0, 1, 2, 3], "range": ["#4a6cc0", "#2d58ad", "#44b06a", "#ee6a2c"]}, "legend": null},
                           "size": {"field": "level", "type": "ordinal", "scale": {"domain": [0, 1, 2, 3], "range": [260, 140, 55, 16]}, "legend": null},
                           "opacity": {"field": "level", "type": "ordinal", "scale": {"domain": [0, 1, 2, 3], "range": [0.14, 0.45, 0.75, 0.95]}, "legend": null},
                           "order": {"field": "level", "type": "quantitative"}
                         }},
                        {"data": {"values": [{}]}, "mark": {"type": "rule", "color": "#333", "strokeWidth": 0.8}, "encoding": {"x": {"datum": 265}}},
                        {"data": {"values": [{}]}, "mark": {"type": "rule", "color": "#333", "strokeWidth": 0.8}, "encoding": {"y": {"datum": 211}}},
                        {"data": {"values": [{}]}, "mark": {"type": "rect", "color": "#8e8e8e"}, "encoding": {"x": {"datum": -353}, "x2": {"datum": 4280}, "y": {"datum": 11300}, "y2": {"datum": 35400}}},
                        {"data": {"values": [{}]}, "mark": {"type": "text", "color": "#f2f2f2", "fontSize": 8.5, "align": "center", "baseline": "middle"}, "encoding": {"x": {"datum": 210}, "y": {"datum": 19460}, "text": {"value": "CAR"}}},
                        {"data": {"name": "quadD"}, "transform": [{"filter": "datum.sample == 'CAR'"}], "layer": [
                          {"transform": [{"filter": "datum.q == 'UL'"}], "mark": {"type": "text", "align": "left", "baseline": "middle", "fontSize": 10}, "encoding": {"x": {"datum": -353}, "y": {"datum": 75700}, "text": {"field": "pct", "type": "nominal"}}},
                          {"transform": [{"filter": "datum.q == 'UR'"}], "mark": {"type": "text", "align": "right", "baseline": "middle", "fontSize": 10}, "encoding": {"x": {"datum": 408000}, "y": {"datum": 75700}, "text": {"field": "pct", "type": "nominal"}}},
                          {"transform": [{"filter": "datum.q == 'LL'"}], "mark": {"type": "text", "align": "left", "baseline": "middle", "fontSize": 10}, "encoding": {"x": {"datum": -353}, "y": {"datum": -242}, "text": {"field": "pct", "type": "nominal"}}},
                          {"transform": [{"filter": "datum.q == 'LR'"}], "mark": {"type": "text", "align": "right", "baseline": "middle", "fontSize": 10}, "encoding": {"x": {"datum": 408000}, "y": {"datum": -242}, "text": {"field": "pct", "type": "nominal"}}}
                        ]}
                      ]
                    },
                    {
                      "width": 97, "height": 96,
                      "layer": [
                        {"data": {"name": "flowD"}, "transform": [{"filter": "datum.sample == 'C7R.CAR'"}], "mark": {"type": "circle", "clip": true},
                         "encoding": {
                           "x": {"field": "cd107a", "type": "quantitative", "scale": {"type": "symlog", "constant": 100, "domain": [-596, 454000], "nice": false},
                                 "axis": {"values": [0, 1000, 10000, 100000], "labels": false, "tickSize": 3, "domain": false, "title": null}},
                           "y": {"field": "ifng", "type": "quantitative", "scale": {"type": "symlog", "constant": 100, "domain": [-565, 146000], "nice": false},
                                 "axis": {"values": [0, 1000, 10000, 100000], "labels": false, "tickSize": 3, "domain": false, "title": null}},
                           "color": {"field": "level", "type": "ordinal", "scale": {"domain": [0, 1, 2, 3], "range": ["#4a6cc0", "#2d58ad", "#44b06a", "#ee6a2c"]}, "legend": null},
                           "size": {"field": "level", "type": "ordinal", "scale": {"domain": [0, 1, 2, 3], "range": [260, 140, 55, 16]}, "legend": null},
                           "opacity": {"field": "level", "type": "ordinal", "scale": {"domain": [0, 1, 2, 3], "range": [0.14, 0.45, 0.75, 0.95]}, "legend": null},
                           "order": {"field": "level", "type": "quantitative"}
                         }},
                        {"data": {"values": [{}]}, "mark": {"type": "rule", "color": "#333", "strokeWidth": 0.8}, "encoding": {"x": {"datum": 265}}},
                        {"data": {"values": [{}]}, "mark": {"type": "rule", "color": "#333", "strokeWidth": 0.8}, "encoding": {"y": {"datum": 211}}},
                        {"data": {"values": [{}]}, "mark": {"type": "rect", "color": "#8e8e8e"}, "encoding": {"x": {"datum": -353}, "x2": {"datum": 4280}, "y": {"datum": 11300}, "y2": {"datum": 35400}}},
                        {"data": {"values": [{}]}, "mark": {"type": "text", "color": "#f2f2f2", "fontSize": 8.5, "align": "center", "baseline": "middle"}, "encoding": {"x": {"datum": 210}, "y": {"datum": 19460}, "text": {"value": "C7R.CAR"}}},
                        {"data": {"name": "quadD"}, "transform": [{"filter": "datum.sample == 'C7R.CAR'"}], "layer": [
                          {"transform": [{"filter": "datum.q == 'UL'"}], "mark": {"type": "text", "align": "left", "baseline": "middle", "fontSize": 10}, "encoding": {"x": {"datum": -353}, "y": {"datum": 75700}, "text": {"field": "pct", "type": "nominal"}}},
                          {"transform": [{"filter": "datum.q == 'UR'"}], "mark": {"type": "text", "align": "right", "baseline": "middle", "fontSize": 10}, "encoding": {"x": {"datum": 408000}, "y": {"datum": 75700}, "text": {"field": "pct", "type": "nominal"}}},
                          {"transform": [{"filter": "datum.q == 'LL'"}], "mark": {"type": "text", "align": "left", "baseline": "middle", "fontSize": 10}, "encoding": {"x": {"datum": -353}, "y": {"datum": -242}, "text": {"field": "pct", "type": "nominal"}}},
                          {"transform": [{"filter": "datum.q == 'LR'"}], "mark": {"type": "text", "align": "right", "baseline": "middle", "fontSize": 10}, "encoding": {"x": {"datum": 408000}, "y": {"datum": -242}, "text": {"field": "pct", "type": "nominal"}}}
                        ]}
                      ]
                    }
                  ],
                  "spacing": 7,
                  "bounds": "flush"
                }
              ],
              "spacing": -33
            },
            {
              "width": 122, "height": 163,
              "view": {"stroke": null},
              "title": {"text": "E", "anchor": "start", "frame": "group", "dx": -42, "fontSize": 16, "offset": 5},
              "layer": [
                {"layer": [
                  {"data": {"name": "ifn"}, "mark": {"type": "bar", "stroke": "#111", "strokeWidth": 0.9},
                   "encoding": {
                     "x": {"field": "group", "type": "nominal", "scale": {"domain": ["UTD", "CAR", "CAR exIL-15", "C7R.CAR"], "paddingInner": 0.34, "paddingOuter": 0.24, "align": 0.84},
                           "axis": {"title": null, "labelAngle": -45, "labelFontSize": 10, "tickSize": 4, "labelPadding": 2, "domainColor": "#222", "tickColor": "#222"}},
                     "y": {"field": "mean", "type": "quantitative", "scale": {"domain": [0, 50.54], "nice": false},
                           "axis": {"values": [0, 10, 20, 30, 40], "format": "d", "domain": false, "labelFontSize": 10, "tickSize": 4, "tickColor": "#222", "title": "% IFNγ⁺CD107a⁺", "titleFontSize": 10, "titleX": -34, "titleY": 109, "titleAlign": "center", "titleBaseline": "middle"}},
                     "color": {"field": "group", "type": "nominal", "scale": {"domain": ["UTD", "CAR", "CAR exIL-15", "C7R.CAR"], "range": ["#dcdcd5", "#5a5a5a", "#5bb257", "#2f4c9a"]}, "legend": null}
                   }},
                  {"data": {"name": "ifn"}, "mark": {"type": "rule", "color": "#111", "strokeWidth": 1},
                   "encoding": {"x": {"field": "group", "type": "nominal"}, "y": {"field": "lo", "type": "quantitative", "scale": {"domain": [0, 50.54], "nice": false}}, "y2": {"field": "hi"}}},
                  {"data": {"name": "ifn"}, "mark": {"type": "tick", "orient": "horizontal", "size": 8, "thickness": 1, "color": "#111", "opacity": 1},
                   "encoding": {"x": {"field": "group", "type": "nominal"}, "y": {"field": "hi", "type": "quantitative", "scale": {"domain": [0, 50.54], "nice": false}}}},
                  {"data": {"name": "ifn"}, "mark": {"type": "tick", "orient": "horizontal", "size": 8, "thickness": 1, "color": "#111", "opacity": 1},
                   "encoding": {"x": {"field": "group", "type": "nominal"}, "y": {"field": "lo", "type": "quantitative", "scale": {"domain": [0, 50.54], "nice": false}}}},
                  {"data": {"name": "ifnPts"}, "mark": {"type": "circle", "color": "#000", "size": 18, "opacity": 1},
                   "encoding": {"x": {"field": "group", "type": "nominal"}, "xOffset": {"field": "rep", "type": "nominal"}, "y": {"field": "v", "type": "quantitative", "scale": {"domain": [0, 50.54], "nice": false}}}}
                ]},
                {"layer": [
                  {"data": {"values": [{}]}, "mark": {"type": "rule", "color": "#222", "strokeWidth": 1},
                   "encoding": {
                     "x": {"datum": 0.27, "type": "quantitative", "scale": {"domain": [0.27, 4.41], "nice": false, "zero": false}, "axis": null},
                     "y": {"datum": 0, "type": "quantitative", "scale": {"domain": [0, 50.54], "nice": false}},
                     "y2": {"datum": 40}
                   }},
                  {"data": {"name": "ifnSig"}, "mark": {"type": "rule", "color": "#444", "strokeWidth": 0.8},
                   "encoding": {
                     "x": {"aggregate": "min", "field": "pos", "type": "quantitative", "scale": {"domain": [0.27, 4.41], "nice": false, "zero": false}, "axis": null},
                     "x2": {"aggregate": "max", "field": "pos"},
                     "y": {"field": "h", "type": "quantitative", "scale": {"domain": [0, 50.54], "nice": false}},
                     "detail": {"field": "cmp", "type": "nominal"}
                   }},
                  {"data": {"name": "ifnSig"}, "mark": {"type": "text", "fontSize": 8, "baseline": "middle", "dy": -1},
                   "encoding": {
                     "x": {"aggregate": "mean", "field": "pos", "type": "quantitative", "scale": {"domain": [0.27, 4.41], "nice": false, "zero": false}, "axis": null},
                     "y": {"field": "h", "type": "quantitative", "scale": {"domain": [0, 50.54], "nice": false}},
                     "text": {"field": "stars", "type": "nominal"},
                     "detail": {"field": "cmp", "type": "nominal"}
                   }}
                ]}
              ],
              "resolve": {"scale": {"x": "independent"}, "axis": {"x": "independent"}}
            }
          ],
          "spacing": 20.5,
          "resolve": {"scale": {"color": "independent", "size": "independent", "opacity": "independent", "shape": "independent"}}
        },
        {
          "hconcat": [
            {"width": 1, "height": 1, "view": {"stroke": null}, "data": {"values": [{}]}, "mark": {"type": "point", "opacity": 0}, "encoding": {},
             "title": {"text": "F", "anchor": "start", "fontSize": 16, "offset": 5}},
            {
              "width": 199, "height": 165,
              "view": {"stroke": null},
              "title": {"text": "CAR-NK Autonomous Growth", "fontSize": 11, "frame": "group", "offset": -37},
              "data": {"name": "growth"},
              "layer": [
                {"data": {"values": [{}]}, "mark": {"type": "rule", "color": "#111", "strokeWidth": 1},
                 "encoding": {"x": {"datum": 0, "type": "quantitative", "scale": {"domain": [0, 70], "nice": false}}, "y": {"datum": 0, "type": "quantitative", "scale": {"domain": [0, 11], "nice": false}}, "y2": {"datum": 8}}},
                {"transform": [{"filter": "datum.series == 'IL-7'"}], "mark": {"type": "line", "color": "#f29150", "strokeWidth": 5},
                 "encoding": {
                   "x": {"field": "day", "type": "quantitative", "scale": {"domain": [0, 70], "nice": false},
                         "axis": {"values": [0, 10, 20, 30, 40, 50, 60, 70], "format": "d", "labelFontSize": 11, "tickSize": 4, "labelPadding": 2, "domainColor": "#111", "tickColor": "#111", "title": "Days Post Plating", "titleFontSize": 11, "titleX": 101, "titleY": 29, "titleAlign": "center", "titleBaseline": "middle"}},
                   "y": {"field": "mean", "type": "quantitative", "scale": {"domain": [0, 11], "nice": false},
                         "axis": {"values": [0, 2, 4, 6, 8], "format": "d", "domain": false, "labelFontSize": 11, "tickSize": 4, "tickColor": "#111", "title": "Fold Expansion", "titleFontSize": 11, "titleX": -29, "titleY": 102, "titleAlign": "center", "titleBaseline": "middle"}}
                 }},
                {"transform": [{"filter": "datum.series != 'IL-7'"}], "mark": {"type": "line", "strokeWidth": 1.6},
                 "encoding": {
                   "x": {"field": "day", "type": "quantitative", "scale": {"domain": [0, 70], "nice": false}},
                   "y": {"field": "mean", "type": "quantitative", "scale": {"domain": [0, 11], "nice": false}},
                   "color": {"field": "series", "type": "nominal", "scale": {"domain": ["(-) Cytokine", "IL-7", "IL-15", "C7R"], "range": ["#111111", "#f29150", "#4cae4c", "#3a4f9f"]},
                             "legend": {"title": null, "orient": "none", "legendX": 140, "legendY": 57, "labelFontSize": 11, "symbolSize": 45, "rowPadding": 1, "labelOffset": 3, "padding": 0}}
                 }},
                {"transform": [{"filter": "isValid(datum.lo)"}], "mark": {"type": "rule", "strokeWidth": 1, "opacity": 0.6},
                 "encoding": {
                   "x": {"field": "day", "type": "quantitative", "scale": {"domain": [0, 70], "nice": false}},
                   "y": {"field": "lo", "type": "quantitative", "scale": {"domain": [0, 11], "nice": false}},
                   "y2": {"field": "hi"},
                   "color": {"field": "series", "type": "nominal", "scale": {"domain": ["(-) Cytokine", "IL-7", "IL-15", "C7R"], "range": ["#111111", "#f29150", "#4cae4c", "#3a4f9f"]},
                             "legend": {"title": null, "orient": "none", "legendX": 140, "legendY": 57, "labelFontSize": 11, "symbolSize": 45, "rowPadding": 1, "labelOffset": 3, "padding": 0}}
                 }},
                {"transform": [{"filter": "isValid(datum.lo)"}], "mark": {"type": "tick", "orient": "horizontal", "size": 6, "thickness": 1, "opacity": 0.6},
                 "encoding": {
                   "x": {"field": "day", "type": "quantitative", "scale": {"domain": [0, 70], "nice": false}},
                   "y": {"field": "hi", "type": "quantitative", "scale": {"domain": [0, 11], "nice": false}},
                   "color": {"field": "series", "type": "nominal", "scale": {"domain": ["(-) Cytokine", "IL-7", "IL-15", "C7R"], "range": ["#111111", "#f29150", "#4cae4c", "#3a4f9f"]},
                             "legend": {"title": null, "orient": "none", "legendX": 140, "legendY": 57, "labelFontSize": 11, "symbolSize": 45, "rowPadding": 1, "labelOffset": 3, "padding": 0}}
                 }},
                {"transform": [{"filter": "isValid(datum.lo)"}], "mark": {"type": "tick", "orient": "horizontal", "size": 6, "thickness": 1, "opacity": 0.6},
                 "encoding": {
                   "x": {"field": "day", "type": "quantitative", "scale": {"domain": [0, 70], "nice": false}},
                   "y": {"field": "lo", "type": "quantitative", "scale": {"domain": [0, 11], "nice": false}},
                   "color": {"field": "series", "type": "nominal", "scale": {"domain": ["(-) Cytokine", "IL-7", "IL-15", "C7R"], "range": ["#111111", "#f29150", "#4cae4c", "#3a4f9f"]},
                             "legend": {"title": null, "orient": "none", "legendX": 140, "legendY": 57, "labelFontSize": 11, "symbolSize": 45, "rowPadding": 1, "labelOffset": 3, "padding": 0}}
                 }},
                {"mark": {"type": "point", "filled": true, "size": 24, "opacity": 1},
                 "encoding": {
                   "x": {"field": "day", "type": "quantitative", "scale": {"domain": [0, 70], "nice": false}},
                   "y": {"field": "mean", "type": "quantitative", "scale": {"domain": [0, 11], "nice": false}},
                   "color": {"field": "series", "type": "nominal", "scale": {"domain": ["(-) Cytokine", "IL-7", "IL-15", "C7R"], "range": ["#111111", "#f29150", "#4cae4c", "#3a4f9f"]},
                             "legend": {"title": null, "orient": "none", "legendX": 140, "legendY": 57, "labelFontSize": 11, "symbolSize": 45, "rowPadding": 1, "labelOffset": 3, "padding": 0}},
                   "shape": {"field": "series", "type": "nominal", "scale": {"domain": ["(-) Cytokine", "IL-7", "IL-15", "C7R"], "range": ["circle", "square", "triangle-up", "triangle-down"]},
                             "legend": {"title": null, "orient": "none", "legendX": 140, "legendY": 57, "labelFontSize": 11, "symbolSize": 45, "rowPadding": 1, "labelOffset": 3, "padding": 0}}
                 }}
              ]
            }
          ],
          "spacing": -4
        }
      ],
      "spacing": 27.5,
      "resolve": {"scale": {"color": "independent", "size": "independent", "opacity": "independent", "shape": "independent"}}
    }
  ],
  "columns": 1,
  "align": "none",
  "spacing": -36,
  "resolve": {"scale": {"color": "independent", "size": "independent", "opacity": "independent", "shape": "independent"}}
}
